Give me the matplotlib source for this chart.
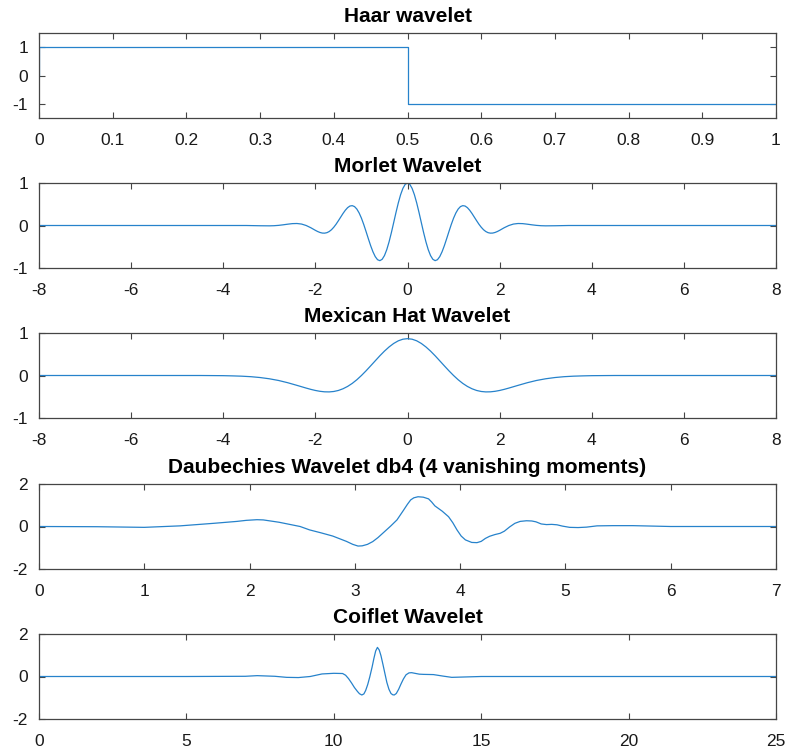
import matplotlib
matplotlib.use('Agg')
import matplotlib.pyplot as plt

plt.rcParams.update({
    'font.family': ['Liberation Sans', 'DejaVu Sans'],
    'axes.unicode_minus': False,
    'axes.edgecolor': '#454545',
    'axes.linewidth': 0.9,
    'xtick.color': '#454545',
    'ytick.color': '#454545',
    'xtick.labelcolor': '#1a1a1a',
    'ytick.labelcolor': '#1a1a1a',
})

line_color = '#2682cb'

# Haar wavelet
haar_x = [0, 0, 0.5, 0.5, 1]
haar_y = [0, 1, 1, -1, -1]

# Morlet wavelet
morlet_x = [-8, -3.5, -3.2, -3.0, -2.9, -2.8, -2.7, -2.6, -2.5, -2.4, -2.3, -2.2, -2.1,
            -2.0, -1.95, -1.9, -1.85, -1.8, -1.75, -1.7, -1.65, -1.6, -1.55, -1.5, -1.45,
            -1.4, -1.35, -1.3, -1.25, -1.2, -1.15, -1.1, -1.05, -1.0, -0.95, -0.9, -0.85,
            -0.8, -0.75, -0.7, -0.65, -0.6, -0.55, -0.5, -0.45, -0.4, -0.35, -0.3, -0.25,
            -0.2, -0.15, -0.1, -0.05, 0.0, 0.05, 0.1, 0.15, 0.2, 0.25, 0.3, 0.35, 0.4, 0.45,
            0.5, 0.55, 0.6, 0.65, 0.7, 0.75, 0.8, 0.85, 0.9, 0.95, 1.0, 1.05, 1.1, 1.15, 1.2,
            1.25, 1.3, 1.35, 1.4, 1.45, 1.5, 1.55, 1.6, 1.65, 1.7, 1.75, 1.8, 1.85, 1.9, 1.95,
            2.0, 2.1, 2.2, 2.3, 2.4, 2.5, 2.6, 2.7, 2.8, 2.9, 3.0, 3.2, 3.5, 8]
morlet_y = [0, 0, -0.006, -0.008, -0.005, 0.003, 0.016, 0.031, 0.044, 0.047, 0.034, 0.0,
            -0.052, -0.114, -0.142, -0.164, -0.178, -0.180, -0.169, -0.142, -0.099, -0.040,
            0.031, 0.113, 0.198, 0.283, 0.359, 0.420, 0.458, 0.467, 0.445, 0.387, 0.295, 0.172,
            0.024, -0.141, -0.311, -0.475, -0.619, -0.733, -0.805, -0.827, -0.795, -0.707,
            -0.568, -0.384, -0.168, 0.068, 0.306, 0.530, 0.724, 0.873, 0.968, 1.0,
            0.968, 0.873, 0.724, 0.530, 0.306, 0.068, -0.168, -0.384, -0.568, -0.707, -0.795,
            -0.827, -0.805, -0.733, -0.619, -0.475, -0.311, -0.141, 0.024, 0.172, 0.295, 0.387,
            0.445, 0.467, 0.458, 0.420, 0.359, 0.283, 0.198, 0.113, 0.031, -0.040, -0.099,
            -0.142, -0.169, -0.180, -0.178, -0.164, -0.142, -0.114, -0.052, 0.0, 0.034, 0.047,
            0.044, 0.031, 0.016, 0.003, -0.005, -0.008, -0.006, 0, 0]

# Mexican hat wavelet
mexhat_x = [-8, -4.5, -4.0, -3.8, -3.6, -3.4, -3.2, -3.0, -2.8, -2.6, -2.4, -2.3, -2.2, -2.1,
            -2.0, -1.9, -1.8, -1.7, -1.6, -1.5, -1.4, -1.3, -1.2, -1.1, -1.0, -0.9, -0.8,
            -0.7, -0.6, -0.5, -0.4, -0.3, -0.2, -0.1, 0.0, 0.1, 0.2, 0.3, 0.4, 0.5, 0.6, 0.7,
            0.8, 0.9, 1.0, 1.1, 1.2, 1.3, 1.4, 1.5, 1.6, 1.7, 1.8, 1.9, 2.0, 2.1, 2.2, 2.3,
            2.4, 2.6, 2.8, 3.0, 3.2, 3.4, 3.6, 3.8, 4.0, 4.5, 8]
mexhat_y = [0, 0, -0.004, -0.009, -0.016, -0.028, -0.048, -0.077, -0.117, -0.170, -0.232,
            -0.264, -0.296, -0.326, -0.352, -0.372, -0.384, -0.386, -0.376, -0.352, -0.312,
            -0.257, -0.186, -0.100, 0.0, 0.110, 0.227, 0.346, 0.464, 0.574, 0.672, 0.754,
            0.816, 0.854, 0.867, 0.854, 0.816, 0.754, 0.672, 0.574, 0.464, 0.346, 0.227, 0.110,
            0.0, -0.100, -0.186, -0.257, -0.312, -0.352, -0.376, -0.386, -0.384, -0.372,
            -0.352, -0.326, -0.296, -0.264, -0.232, -0.170, -0.117, -0.077, -0.048, -0.028,
            -0.016, -0.009, -0.004, 0, 0]

# Daubechies db4
db4_x = [0, 0.55, 1.0, 1.34, 1.66, 1.88, 1.97, 2.07, 2.13, 2.28, 2.38, 2.48, 2.57, 2.68,
         2.79, 2.92, 2.98, 3.03, 3.07, 3.12, 3.17, 3.22, 3.28, 3.34, 3.40, 3.46, 3.50, 3.53,
         3.56, 3.60, 3.65, 3.70, 3.73, 3.76, 3.83, 3.89, 3.93, 3.97, 4.01, 4.05, 4.11, 4.16,
         4.20, 4.24, 4.28, 4.33, 4.38, 4.42, 4.47, 4.52, 4.57, 4.63, 4.68, 4.72, 4.77, 4.82,
         4.87, 4.92, 4.97, 5.04, 5.12, 5.20, 5.30, 5.45, 5.64, 6.0, 7.0]
db4_y = [0, -0.01, -0.04, 0.03, 0.15, 0.24, 0.29, 0.32, 0.31, 0.20, 0.10, 0.0, -0.16,
         -0.30, -0.45, -0.70, -0.84, -0.92, -0.91, -0.84, -0.71, -0.52, -0.25, 0.02, 0.31,
         0.75, 1.05, 1.25, 1.35, 1.40, 1.38, 1.30, 1.15, 0.97, 0.72, 0.46, 0.18, -0.16, -0.45,
         -0.63, -0.75, -0.76, -0.70, -0.56, -0.46, -0.38, -0.32, -0.22, -0.02, 0.15, 0.24,
         0.27, 0.26, 0.22, 0.12, 0.09, 0.10, 0.08, 0.02, -0.04, -0.05, -0.03, 0.03, 0.04,
         0.04, 0.0, 0.0]

# Coiflet
coif_x = [0, 5, 7.0, 7.4, 8.0, 8.4, 8.8, 9.2, 9.6, 10.0, 10.3, 10.4, 10.5, 10.6, 10.7, 10.8,
          10.87, 10.95, 11.02, 11.08, 11.15, 11.22, 11.3, 11.36, 11.42, 11.48, 11.54, 11.6,
          11.67, 11.74, 11.8, 11.87, 11.94, 12.0, 12.05, 12.12, 12.2, 12.28, 12.36, 12.45,
          12.55, 12.64, 12.75, 12.9, 13.05, 13.38, 13.7, 14.0, 14.5, 15.0, 25]
coif_y = [0, 0, 0.01, 0.04, 0.01, -0.04, -0.05, 0.0, 0.12, 0.15, 0.14, 0.06, -0.10, -0.30,
          -0.52, -0.70, -0.81, -0.87, -0.82, -0.66, -0.38, -0.02, 0.45, 0.85, 1.20, 1.37,
          1.25, 0.98, 0.55, 0.10, -0.28, -0.60, -0.80, -0.86, -0.87, -0.80, -0.60, -0.35,
          -0.12, 0.08, 0.17, 0.18, 0.15, 0.11, 0.10, 0.09, 0.02, -0.04, -0.02, 0, 0]

titles = ['Haar wavelet', 'Morlet Wavelet', 'Mexican Hat Wavelet',
          'Daubechies Wavelet db4 (4 vanishing moments)', 'Coiflet Wavelet']
series = [(haar_x, haar_y), (morlet_x, morlet_y), (mexhat_x, mexhat_y),
          (db4_x, db4_y), (coif_x, coif_y)]
xlims = [(0, 1), (-8, 8), (-8, 8), (0, 7), (0, 25)]
ylims = [(-1.5, 1.5), (-1, 1), (-1, 1), (-2, 2), (-2, 2)]
xticks = [[0, 0.1, 0.2, 0.3, 0.4, 0.5, 0.6, 0.7, 0.8, 0.9, 1],
          [-8, -6, -4, -2, 0, 2, 4, 6, 8],
          [-8, -6, -4, -2, 0, 2, 4, 6, 8],
          [0, 1, 2, 3, 4, 5, 6, 7],
          [0, 5, 10, 15, 20, 25]]
yticks = [[-1, 0, 1], [-1, 0, 1], [-1, 0, 1], [-2, 0, 2], [-2, 0, 2]]

fig = plt.figure(figsize=(7.85, 7.51), dpi=100)

# axes boxes in pixel coordinates of the reference
left, right = 39, 776
tops = [33, 183, 333, 484, 634]
height = 85

for i in range(5):
    bottom_px = tops[i] + height
    ax = fig.add_axes([left / 785, 1 - bottom_px / 751, (right - left) / 785, height / 751])
    x, y = series[i]
    ax.plot(x, y, color=line_color, linewidth=0.9)
    ax.set_xlim(*xlims[i])
    ax.set_ylim(*ylims[i])
    ax.set_xticks(xticks[i])
    ax.set_xticklabels([f'{v:g}' for v in xticks[i]])
    ax.set_yticks(yticks[i])
    ax.set_yticklabels([f'{v:g}' for v in yticks[i]])
    ax.tick_params(direction='in', top=True, right=True, length=4, width=0.8,
                   labelsize=12.5)
    ax.tick_params(axis='x', pad=10.5)
    ax.tick_params(axis='y', pad=8)
    ax.set_title(titles[i], fontsize=15, fontweight='bold', pad=8)

fig.savefig('out.png', dpi=100)
